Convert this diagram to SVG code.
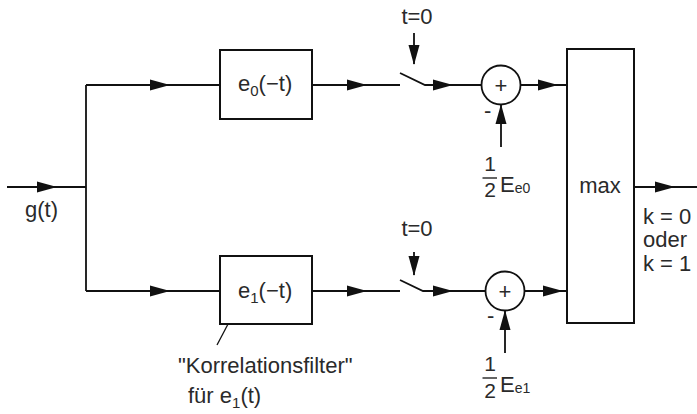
<svg xmlns="http://www.w3.org/2000/svg" xmlns:xlink="http://www.w3.org/1999/xlink" width="697" height="414" viewBox="0 0 697 414">
  <style>
    .ln { stroke: #111; stroke-width: 1.8; fill: none; }
    .bx { stroke: #111; stroke-width: 2; fill: #fff; }
    text { font-family: "Liberation Sans", Arial, Helvetica, sans-serif; fill: #2a2a2a; font-size: 22px; }
    .sm { font-size: 15px; }
    .sub { font-size: 14px; }
    .fr { font-size: 21px; }
    .mid { text-anchor: middle; }
  </style>
  <defs>
    <!-- arrowhead pointing right, tip at origin -->
    <path id="ah" d="M0,0 L-20,-5.5 L-20,5.5 Z" fill="#111"/>
  </defs>

  <!-- connectors -->
  <g id="connectors">
    <path class="ln" d="M7,187 H86 M86,85 V291 M86,85 H220 M86,291 H220"/>
    <use xlink:href="#ah" transform="translate(57,187)"/>
    <use xlink:href="#ah" transform="translate(170,85)"/>
    <use xlink:href="#ah" transform="translate(170,291)"/>
    <!-- upper path -->
    <path class="ln" d="M312,85 H400 M400,73 L425,85 H481.5 M520.5,85 H567"/>
    <use xlink:href="#ah" transform="translate(367,85)"/>
    <use xlink:href="#ah" transform="translate(453,85)"/>
    <use xlink:href="#ah" transform="translate(558,85)"/>
    <path class="ln" d="M414,33 V64 M501,147 V104"/>
    <use xlink:href="#ah" transform="translate(414,65) rotate(90)"/>
    <use xlink:href="#ah" transform="translate(501,104) rotate(-90)"/>
    <!-- lower path -->
    <path class="ln" d="M312,291 H400 M400,280 L423,291 H485.5 M524.5,291 H567"/>
    <use xlink:href="#ah" transform="translate(367,291)"/>
    <use xlink:href="#ah" transform="translate(453,291)"/>
    <use xlink:href="#ah" transform="translate(563,291)"/>
    <path class="ln" d="M414,252 V275 M505,353 V310"/>
    <use xlink:href="#ah" transform="translate(414,276) rotate(90)"/>
    <use xlink:href="#ah" transform="translate(505,310) rotate(-90)"/>
    <!-- output -->
    <path class="ln" d="M634,187 H697"/>
    <use xlink:href="#ah" transform="translate(675,187)"/>
    <!-- annotation pointer -->
    <path class="ln" d="M237,307 L217,345" style="stroke-width:1.3"/>
  </g>

  <!-- input label -->
  <g id="input">
    <text x="25" y="217">g(t)</text>
  </g>

  <g id="filter0">
    <rect class="bx" x="220" y="50" width="92" height="69"/>
    <text x="238" y="91">e<tspan class="sm" dy="5">0</tspan><tspan dy="-5">(−t)</tspan></text>
  </g>

  <g id="filter1">
    <rect class="bx" x="220" y="256" width="92" height="68"/>
    <text x="238" y="298">e<tspan class="sm" dy="5">1</tspan><tspan dy="-5">(−t)</tspan></text>
  </g>

  <g id="switch0">
    <text class="mid" x="417" y="24">t=0</text>
  </g>
  <g id="switch1">
    <text class="mid" x="417" y="236">t=0</text>
  </g>

  <g id="sum0">
    <circle class="bx" cx="501" cy="85" r="19.5" style="stroke-width:1.8"/>
    <text class="mid" x="501" y="93">+</text>
    <text x="484" y="118">-</text>
    <text class="mid fr" x="490" y="171">1</text>
    <path class="ln" d="M482.5,178 H497" style="stroke-width:1.3"/>
    <text class="mid fr" x="490" y="197">2</text>
    <text x="500" y="192">E<tspan class="sub" dy="1">e0</tspan></text>
  </g>

  <g id="sum1">
    <circle class="bx" cx="505" cy="291" r="19.5" style="stroke-width:1.8"/>
    <text class="mid" x="505" y="299">+</text>
    <text x="487" y="323">-</text>
    <text class="mid fr" x="490" y="371">1</text>
    <path class="ln" d="M482.5,378 H497" style="stroke-width:1.3"/>
    <text class="mid fr" x="490" y="398">2</text>
    <text x="500" y="392">E<tspan class="sub" dy="1">e1</tspan></text>
  </g>

  <g id="max">
    <rect class="bx" x="567" y="49" width="67" height="274"/>
    <text class="mid" x="600" y="193">max</text>
  </g>

  <g id="decision">
    <text x="643" y="224">k = 0</text>
    <text x="643" y="247">oder</text>
    <text x="643" y="271">k = 1</text>
  </g>

  <g id="note">
    <text x="178" y="373">"Korrelationsfilter"</text>
    <text x="188" y="403">für e<tspan class="sm" dy="5">1</tspan><tspan dy="-5">(t)</tspan></text>
  </g>
</svg>
